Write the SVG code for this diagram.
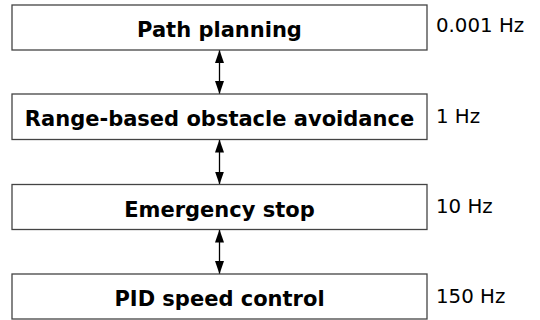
<svg xmlns="http://www.w3.org/2000/svg" width="540" height="320" viewBox="0 0 540 320">
<style>
.box{fill:#fff;stroke:#444;stroke-width:1.3}
.lbl{font-family:"DejaVu Sans",sans-serif;font-weight:bold;font-size:21px;fill:#000;text-anchor:middle}
.hz{font-family:"DejaVu Sans",sans-serif;font-size:19.8px;fill:#000}
.conn{stroke:#000;stroke-width:1.3;fill:none}
</style>
<defs>
<marker id="ah" viewBox="0 0 13 9" refX="13" refY="4.5" markerWidth="13" markerHeight="9" markerUnits="userSpaceOnUse" orient="auto-start-reverse">
<path d="M0,0 L13,4.5 L0,9 z" fill="#000"/>
</marker>
</defs>
<rect width="540" height="320" fill="#fff"/>
<g id="connectors">
<line class="conn" x1="219.5" y1="50" x2="219.5" y2="94" marker-start="url(#ah)" marker-end="url(#ah)"/>
<line class="conn" x1="219.5" y1="139.5" x2="219.5" y2="184.5" marker-start="url(#ah)" marker-end="url(#ah)"/>
<line class="conn" x1="219.5" y1="229.5" x2="219.5" y2="274" marker-start="url(#ah)" marker-end="url(#ah)"/>
</g>
<g id="path-planning">
<rect class="box" x="12" y="5" width="415" height="45"/>
<text class="lbl" x="219.5" y="37">Path planning</text>
<text class="hz" x="436" y="31.7">0.001 Hz</text>
</g>
<g id="obstacle-avoidance">
<rect class="box" x="12" y="94" width="415" height="45.5"/>
<text class="lbl" x="219.5" y="126">Range-based obstacle avoidance</text>
<text class="hz" x="436" y="122.7">1 Hz</text>
</g>
<g id="emergency-stop">
<rect class="box" x="12" y="184.5" width="415" height="45"/>
<text class="lbl" x="219.5" y="216.5">Emergency stop</text>
<text class="hz" x="436" y="212.7">10 Hz</text>
</g>
<g id="pid-speed-control">
<rect class="box" x="12" y="274" width="415" height="45"/>
<text class="lbl" x="219.5" y="306">PID speed control</text>
<text class="hz" x="436" y="302.7">150 Hz</text>
</g>
</svg>
